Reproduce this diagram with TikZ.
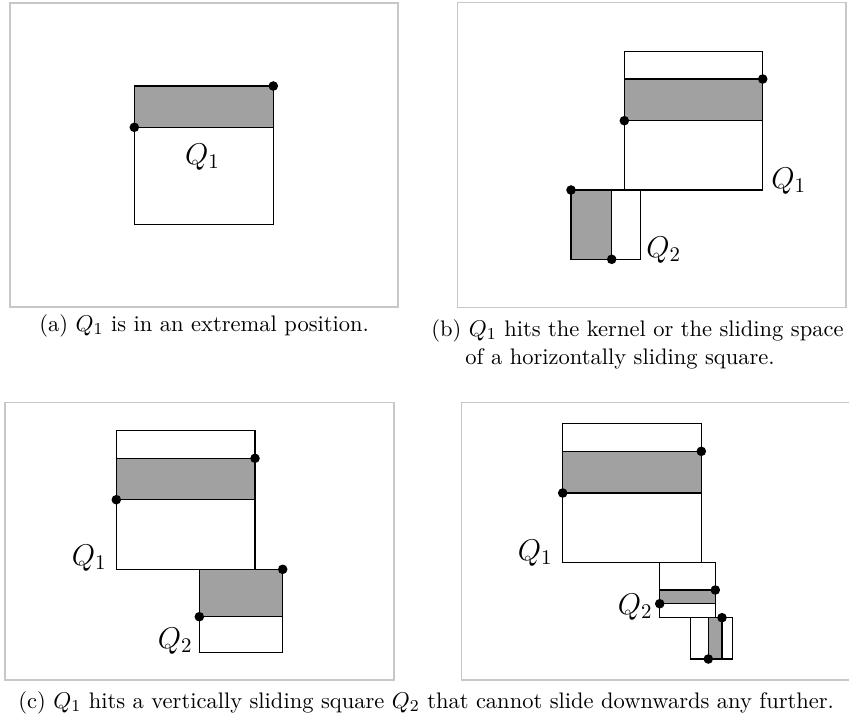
\documentclass[tikz,border=0pt]{standalone}
\begin{document}
\begin{tikzpicture}[x=0.48pt,y=-0.48pt,
  pframe/.style={draw=black!22,line width=0.6pt},
  sq/.style={draw=black,line width=0.5pt},
  band/.style={draw=black,line width=0.5pt,fill=black!37},
  pt/.style={circle,fill=black,inner sep=0pt,minimum size=4.6pt},
  lab/.style={font=\fontsize{14.8}{17}\selectfont,inner sep=0pt},
  capt/.style={anchor=base west,inner sep=0pt,font=\fontsize{10.8}{13}\selectfont}]
\useasboundingbox (0,0) rectangle (849,719);
% panel (a)
\draw[pframe] (10,3) rectangle (398,307);
\draw[band] (134.3,86) rectangle (273.3,127.3);
\draw[sq] (134.3,86) rectangle (273.3,224.3);
\node[pt] (a1) at (273.3,86) {};
\node[pt] (a2) at (134.3,127.3) {};
\node[lab] (aq1) at (202.5,157) {$Q_1$};
\node[capt] (capa) at (39,331) {(a) $Q_1$ is in an extremal position.};
% panel (b)
\draw[pframe] (457.7,2.7) rectangle (846,307.3);
\draw[band] (624.3,79) rectangle (762.7,120.7);
\draw[sq] (624.3,51.7) rectangle (762.7,190);
\draw[band] (571,190) rectangle (611.7,259.3);
\draw[sq] (571,190) rectangle (640.3,259.3);
\node[pt] (b1) at (762.7,79) {};
\node[pt] (b2) at (624.3,120.7) {};
\node[pt] (b3) at (571,190) {};
\node[pt] (b4) at (611.7,259.3) {};
\node[lab,anchor=west] (bq1) at (771,181) {$Q_1$};
\node[lab,anchor=west] (bq2) at (646,250) {$Q_2$};
\node[capt] (capb1) at (431,336) {(b) $Q_1$ hits the kernel or the sliding space};
\node[capt] (capb2) at (465,364) {of a horizontally sliding square.};
% panel (c)
\draw[pframe] (5,402.7) rectangle (394,680);
\draw[band] (116.3,458.3) rectangle (255,499.7);
\draw[sq] (116.3,430.7) rectangle (255,569.3);
\draw[band] (199.3,569.3) rectangle (282.7,616.7);
\draw[sq] (199.3,569.3) rectangle (282.7,652.3);
\node[pt] (c1) at (255,458.3) {};
\node[pt] (c2) at (116.3,499.7) {};
\node[pt] (c3) at (282.7,569.3) {};
\node[pt] (c4) at (199.3,616.7) {};
\node[lab,anchor=east] (cq1) at (107,558) {$Q_1$};
\node[lab,anchor=east] (cq2) at (193,641) {$Q_2$};
% panel (d)
\draw[pframe] (461.7,402.7) rectangle (852,680);
\draw[band] (562.7,451.3) rectangle (701.3,493);
\draw[sq] (562.7,423.3) rectangle (701.3,562.3);
\draw[band] (659.7,590) rectangle (715.3,603.7);
\draw[sq] (659.7,562.3) rectangle (715.3,617.7);
\draw[band] (708.3,617.7) rectangle (722,659);
\draw[sq] (690.7,617.7) rectangle (732.3,659);
\node[pt] (d1) at (701.3,451.3) {};
\node[pt] (d2) at (562.7,493) {};
\node[pt] (d3) at (715.3,590) {};
\node[pt] (d4) at (659.7,603.7) {};
\node[pt] (d5) at (722,617.7) {};
\node[pt] (d6) at (708.3,659) {};
\node[lab,anchor=east] (dq1) at (553,553) {$Q_1$};
\node[lab,anchor=east] (dq2) at (653,607) {$Q_2$};
\node[capt] (capc) at (18,708) {(c) $Q_1$ hits a vertically sliding square $Q_2$ that cannot slide downwards any further.};
\end{tikzpicture}
\end{document}
